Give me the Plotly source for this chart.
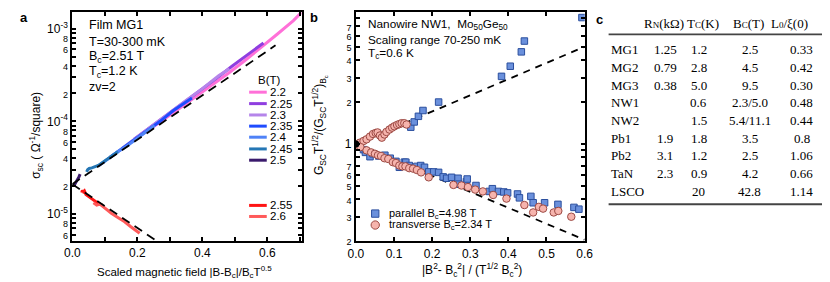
import plotly.graph_objects as go

# ---------------- Panel a data (sigma_sc vs scaled field) ----------------
a_names = ["2.2", "2.25", "2.3", "2.35", "2.4", "2.45", "2.5", "2.55", "2.6"]
a_colors = ["#ff70d8", "#8f3ee0", "#b585ea", "#1f4cff", "#4f82f7", "#2577b5", "#3a1a6c", "#ff1414", "#ff5a5a"]

a22_x = [0.225, 0.28, 0.33, 0.38, 0.43, 0.48, 0.53, 0.58, 0.63, 0.68, 0.705]
a22_y = [7.6e-5, 1.03e-4, 1.38e-4, 1.85e-4, 2.45e-4, 3.3e-4, 4.5e-4, 6.2e-4, 8.7e-4, 1.22e-3, 1.5e-3]
a225_x = [0.19, 0.24, 0.29, 0.34, 0.39, 0.44, 0.49, 0.54, 0.588]
a225_y = [6.4e-5, 8.6e-5, 1.16e-4, 1.57e-4, 2.1e-4, 2.85e-4, 3.9e-4, 5.3e-4, 7.0e-4]
a23_x = [0.153, 0.2, 0.25, 0.3, 0.35, 0.4, 0.45, 0.483]
a23_y = [5.1e-5, 6.8e-5, 9.2e-5, 1.25e-4, 1.68e-4, 2.25e-4, 3.1e-4, 3.7e-4]
a235_x = [0.116, 0.15, 0.19, 0.23, 0.27, 0.31, 0.34, 0.368]
a235_y = [4.1e-5, 5.0e-5, 6.3e-5, 7.9e-5, 1.0e-4, 1.3e-4, 1.52e-4, 1.78e-4]
a24_x = [0.08, 0.11, 0.14, 0.17, 0.2, 0.23, 0.253]
a24_y = [3.3e-5, 3.95e-5, 4.7e-5, 5.5e-5, 6.6e-5, 7.9e-5, 9.0e-5]
a245_x = [0.044, 0.047, 0.052, 0.06, 0.08, 0.1, 0.12, 0.14]
a245_y = [2.85e-5, 3.0e-5, 3.1e-5, 3.15e-5, 3.35e-5, 3.75e-5, 4.2e-5, 4.7e-5]
a25_x = [0.004, 0.008, 0.012, 0.016, 0.02, 0.024]
a25_y = [2.0e-5, 2.1e-5, 2.25e-5, 2.35e-5, 2.5e-5, 2.7e-5]
a255_x = [0.029, 0.031, 0.034, 0.037, 0.042, 0.05, 0.06, 0.07, 0.08, 0.092]
a255_y = [1.7e-5, 1.8e-5, 1.74e-5, 1.78e-5, 1.62e-5, 1.55e-5, 1.45e-5, 1.36e-5, 1.3e-5, 1.25e-5]
a26_x = [0.065, 0.075, 0.085, 0.1, 0.12, 0.14, 0.16, 0.18, 0.2, 0.207]
a26_y = [1.32e-5, 1.25e-5, 1.28e-5, 1.15e-5, 1.02e-5, 9.2e-6, 8.3e-6, 7.3e-6, 6.4e-6, 6.2e-6]

a_series_x = [a22_x, a225_x, a23_x, a235_x, a24_x, a245_x, a25_x, a255_x, a26_x]
a_series_y = [a22_y, a225_y, a23_y, a235_y, a24_y, a245_y, a25_y, a255_y, a26_y]

a_fit_up_x = [0.0, 0.625]
a_fit_up_y = [2.1e-5, 6.6e-4]
a_fit_dn_x = [0.0, 0.257]
a_fit_dn_y = [2.1e-5, 5.2e-6]

# ---------------- Panel b data ----------------
par_up_x = [0.144, 0.153, 0.164, 0.176, 0.217, 0.382, 0.405, 0.434, 0.442, 0.593]
par_up_y = [1.32, 1.44, 1.58, 1.74, 2.0, 3.06, 3.62, 4.59, 5.49, 8.1]
par_dn_x = [0.02, 0.025, 0.037, 0.045, 0.06, 0.076, 0.09, 0.105, 0.114, 0.127, 0.131, 0.14, 0.148,
            0.16, 0.17, 0.18, 0.191, 0.204, 0.217, 0.229, 0.238, 0.251, 0.268, 0.27, 0.29, 0.292,
            0.315, 0.35, 0.358, 0.374, 0.388, 0.398, 0.424, 0.429, 0.459, 0.465, 0.495, 0.53,
            0.572, 0.585]
par_dn_y = [0.91, 0.87, 0.81, 0.85, 0.82, 0.83, 0.79, 0.75, 0.68, 0.74, 0.74, 0.70, 0.67,
            0.69, 0.70, 0.68, 0.63, 0.63, 0.625, 0.58, 0.567, 0.576, 0.567, 0.514, 0.537, 0.56,
            0.503, 0.456, 0.477, 0.456, 0.452, 0.445, 0.437, 0.41, 0.42, 0.378, 0.378, 0.368,
            0.35, 0.34]
tr_up_x = [0.01, 0.02, 0.028, 0.037, 0.045, 0.052, 0.057, 0.063, 0.068, 0.075, 0.08, 0.088, 0.095,
           0.101, 0.108, 0.114, 0.12, 0.127, 0.133]
tr_up_y = [1.02, 1.05, 1.08, 1.13, 1.18, 1.2, 1.21, 1.15, 1.11, 1.17, 1.22, 1.27, 1.31,
           1.34, 1.37, 1.39, 1.41, 1.41, 1.38]
tr_dn_x = [0.0, 0.012, 0.028, 0.04, 0.05, 0.058, 0.066, 0.075, 0.085, 0.097, 0.105, 0.114, 0.122,
           0.13, 0.14, 0.15, 0.16, 0.171, 0.191, 0.256, 0.277, 0.294, 0.313, 0.333, 0.36, 0.395,
           0.442, 0.465, 0.48, 0.491, 0.519, 0.531, 0.565]
tr_dn_y = [0.97, 0.95, 0.90, 0.87, 0.85, 0.83, 0.82, 0.79, 0.78, 0.74, 0.73, 0.70, 0.69,
           0.69, 0.67, 0.665, 0.65, 0.625, 0.576, 0.508, 0.503, 0.49, 0.47, 0.456, 0.43, 0.405,
           0.364, 0.322, 0.353, 0.343, 0.322, 0.33, 0.30]
crit_x = [0.0]
crit_y = [1.0]
b_fit_up_x = [0.0, 0.6]
b_fit_up_y = [1.0, 5.0]
b_fit_dn_x = [0.0, 0.6]
b_fit_dn_y = [1.0, 0.205]

# ---------------- Panel c table ----------------
tab_header = ["R<span style='font-size:9px'>N</span>(kΩ)", "T<span style='font-size:9px'>C</span>(K)",
              "B<span style='font-size:9px'>C</span>(T)", "L<span style='font-size:9px'>0</span>/ξ(0)"]
tab_names = ["MG1", "MG2", "MG3", "NW1", "NW2", "Pb1", "Pb2", "TaN", "LSCO"]
tab_rn = ["1.25", "0.79", "0.38", "", "", "1.9", "3.1", "2.3", ""]
tab_tc = ["1.2", "2.8", "5.0", "0.6", "1.5", "1.8", "1.2", "0.9", "20"]
tab_bc = ["2.5", "4.5", "9.5", "2.3/5.0", "5.4/11.1", "3.5", "2.5", "4.2", "42.8"]
tab_l0 = ["0.33", "0.42", "0.30", "0.48", "0.44", "0.8", "1.06", "0.66", "1.14"]

# tick labels
ya_major = [1e-5, 2e-5, 4e-5, 6e-5, 8e-5, 1e-4, 2e-4, 4e-4, 6e-4, 8e-4, 1e-3, 6e-6, 8e-6]
ya_major_text = ["10<sup>-5</sup>", "2", "4", "6", "8", "10<sup>-4</sup>", "2", "4", "6", "8",
                 "10<sup>-3</sup>", "6", "8"]
yb_major = [0.2, 0.3, 0.4, 0.5, 0.6, 0.7, 1, 2, 3, 4, 5, 6, 7]
yb_major_text = ["2", "3", "4", "5", "6", "7", "1", "2", "3", "4", "5", "6", "7"]

W, H = 830, 282
SANS = "Liberation Sans, Arial, sans-serif"
SERIF = "Liberation Serif, Times New Roman, serif"


def px(x):
    return x / W


def py(y):
    return 1 - y / H


def styled_ticks(texts, big):
    out = []
    for t in texts:
        if t in big:
            out.append(t)
        else:
            out.append("<span style='font-size:9px'>%s</span>" % t)
    return out


def minor_log(decades, majors):
    vals = []
    for e in decades:
        for m in range(1, 10):
            v = m * 10.0 ** e
            if not any(abs(v - mj) / mj < 1e-9 for mj in majors):
                vals.append(v)
    return vals


fig = go.Figure()

# panel a traces
for name, col, xs, ys in zip(a_names, a_colors, a_series_x, a_series_y):
    fig.add_trace(go.Scatter(x=xs, y=ys, mode="lines", name=name, line=dict(color=col, width=3),
                             xaxis="x", yaxis="y", showlegend=False))
for fx, fy in [(a_fit_up_x, a_fit_up_y), (a_fit_dn_x, a_fit_dn_y)]:
    fig.add_trace(go.Scatter(x=fx, y=fy, mode="lines", line=dict(color="black", width=1.8, dash="9px,6px"),
                             xaxis="x", yaxis="y", showlegend=False))

# panel b traces
for fx, fy in [(b_fit_up_x, b_fit_up_y), (b_fit_dn_x, b_fit_dn_y)]:
    fig.add_trace(go.Scatter(x=fx, y=fy, mode="lines", line=dict(color="black", width=1.8, dash="7px,6px"),
                             xaxis="x2", yaxis="y2", showlegend=False))
sq = dict(symbol="square", size=6.5, color="#6a90dc", line=dict(color="#2b4f9e", width=1))
ci = dict(symbol="circle", size=7.5, color="#f6b4ad", line=dict(color="#9c4a44", width=1))
fig.add_trace(go.Scatter(x=par_up_x + par_dn_x, y=par_up_y + par_dn_y, mode="markers", marker=sq,
                         xaxis="x2", yaxis="y2", showlegend=False))
fig.add_trace(go.Scatter(x=tr_up_x + tr_dn_x, y=tr_up_y + tr_dn_y, mode="markers", marker=ci,
                         xaxis="x2", yaxis="y2", showlegend=False))
fig.add_trace(go.Scatter(x=crit_x, y=crit_y, mode="markers",
                         marker=dict(symbol="circle", size=7, color="black"),
                         xaxis="x2", yaxis="y2", showlegend=False))

axis_common = dict(showline=True, linecolor="black", linewidth=2, mirror="ticks", ticks="inside",
                   ticklen=4, tickwidth=1.5, tickcolor="black", showgrid=False, zeroline=False,
                   tickfont=dict(family=SANS, size=12, color="black"))
minor_common = dict(ticks="inside", ticklen=4, tickwidth=1.5, tickcolor="black", showgrid=False)

fig.update_layout(
    width=W, height=H, margin=dict(l=0, r=0, t=0, b=0),
    paper_bgcolor="white", plot_bgcolor="white",
    font=dict(family=SANS, size=12, color="black"),
    xaxis=dict(domain=[px(57.5), px(291.5)], range=[0, 0.705], anchor="y",
               tickvals=[0, 0.2, 0.4, 0.6], ticktext=["0.0", "0.2", "0.4", "0.6"],
               minor=dict(tickvals=[0.1, 0.3, 0.5, 0.7], **minor_common), **axis_common),
    yaxis=dict(domain=[py(238), py(4)], type="log", range=[-5.29, -2.82], anchor="x",
               tickvals=ya_major,
               ticktext=styled_ticks(ya_major_text, ["10<sup>-5</sup>", "10<sup>-4</sup>", "10<sup>-3</sup>"]),
               minor=dict(tickvals=minor_log([-6, -5, -4, -3], ya_major), **minor_common), **axis_common),
    xaxis2=dict(domain=[px(347), px(580.5)], range=[0, 0.6], anchor="y2",
                tickvals=[0, 0.1, 0.2, 0.3, 0.4, 0.5, 0.6],
                ticktext=["0.0", "0.1", "0.2", "0.3", "0.4", "0.5", "0.6"], **axis_common),
    yaxis2=dict(domain=[py(238.3), py(4)], type="log", range=[-0.699, 0.949], anchor="x2",
                tickvals=yb_major, ticktext=styled_ticks(yb_major_text, ["1"]),
                minor=dict(tickvals=minor_log([-1, 0], yb_major), **minor_common), **axis_common),
)

ann = []
shapes = []


def text(x, y, t, size=12, xanchor="left", family=SANS, angle=0, bold=False):
    if bold:
        t = "<b>%s</b>" % t
    ann.append(dict(x=px(x), y=py(y), xref="paper", yref="paper", text=t, showarrow=False,
                    xanchor=xanchor, yanchor="middle", textangle=angle, borderpad=0,
                    font=dict(family=family, size=size, color="black")))


# panel labels
text(3, 10, "a", 13, bold=True)
text(299, 10, "b", 13, bold=True)
text(591, 12, "c", 13, bold=True)

# panel a texts
text(74, 17, "Film MG1", 12.5)
text(74, 35, "T=30-300 mK", 12.5)
text(74, 50, "B<sub>c</sub>=2.51 T", 12.5)
text(74, 65, "T<sub>c</sub>=1.2 K", 12.5)
text(74, 81, "zv=2", 12.5)
text(21, 130, "σ<sub>sc</sub> ( Ω<sup>-1</sup>/square)", 12, xanchor="center", angle=-90)
text(172, 270, "Scaled magnetic field |B-B<sub>c</sub>|/B<sub>c</sub>T<sup>0.5</sup>", 11.5, xanchor="center")

# panel a legend (manual, tight spacing as in original)
text(258.5, 74, "B(T)", 11.5, xanchor="center")
leg_y = [86, 97.7, 109.3, 120.7, 132, 144, 155.5, 201.7, 213]
for name, col, yy in zip(a_names, a_colors, leg_y):
    shapes.append(dict(type="line", xref="paper", yref="paper", x0=px(238), x1=px(256), y0=py(yy), y1=py(yy),
                       line=dict(color=col, width=3)))
    text(258, yy, name, 11.5)

# panel b texts
text(358, 17, "Nanowire NW1,  Mo<sub>50</sub>Ge<sub>50</sub>", 11.8)
text(358, 33, "Scaling range 70-250 mK", 11.8)
text(358, 46.5, "T<sub>c</sub>=0.6 K", 11.8)
text(310, 120, "G<sub>SC</sub>T<sup>1/2</sup>/(G<sub>SC</sub>T<sup>1/2</sup>)<sub>B<sub>c</sub></sub>", 12,
     xanchor="center", angle=-90)
text(466, 268, "|B<sup>2</sup>- B<sub>c</sub><sup>2</sup>| / (T<sup>1/2</sup> B<sub>c</sub><sup>2</sup>)", 12,
     xanchor="center")

# panel b legend
shapes.append(dict(type="rect", xref="paper", yref="paper", x0=px(363), x1=px(370.5), y0=py(213.8), y1=py(206.3),
                   fillcolor="#6a90dc", line=dict(color="#2b4f9e", width=1)))
shapes.append(dict(type="circle", xref="paper", yref="paper", x0=px(362.5), x1=px(371), y0=py(226), y1=py(217.5),
                   fillcolor="#f6b4ad", line=dict(color="#9c4a44", width=1)))
text(380, 210, "parallel B<sub>c</sub>=4.98 T", 11)
text(380, 222, "transverse B<sub>c</sub>=2.34 T", 11)

# panel c table
hdr_x = [662, 701, 748, 790]
col_x = [663, 697, 749, 802]
for hx, ht in zip(hdr_x, tab_header):
    text(hx, 15.5, ht, 13, xanchor="center", family=SERIF)
shapes.append(dict(type="line", xref="paper", yref="paper", x0=px(605), x1=px(823), y0=py(27), y1=py(27),
                   line=dict(color="#444444", width=1.8)))
for i, nm in enumerate(tab_names):
    yy = 42.5 + i * 18.1
    text(606, yy, nm, 13, family=SERIF)
    for cx, col in zip(col_x, [tab_rn, tab_tc, tab_bc, tab_l0]):
        if col[i]:
            text(cx, yy, col[i], 13, xanchor="center", family=SERIF)
shapes.append(dict(type="line", xref="paper", yref="paper", x0=px(605), x1=px(823), y0=py(200.5), y1=py(200.5),
                   line=dict(color="#444444", width=1.8)))

fig.update_layout(annotations=ann, shapes=shapes)
fig.write_html("out.html")
